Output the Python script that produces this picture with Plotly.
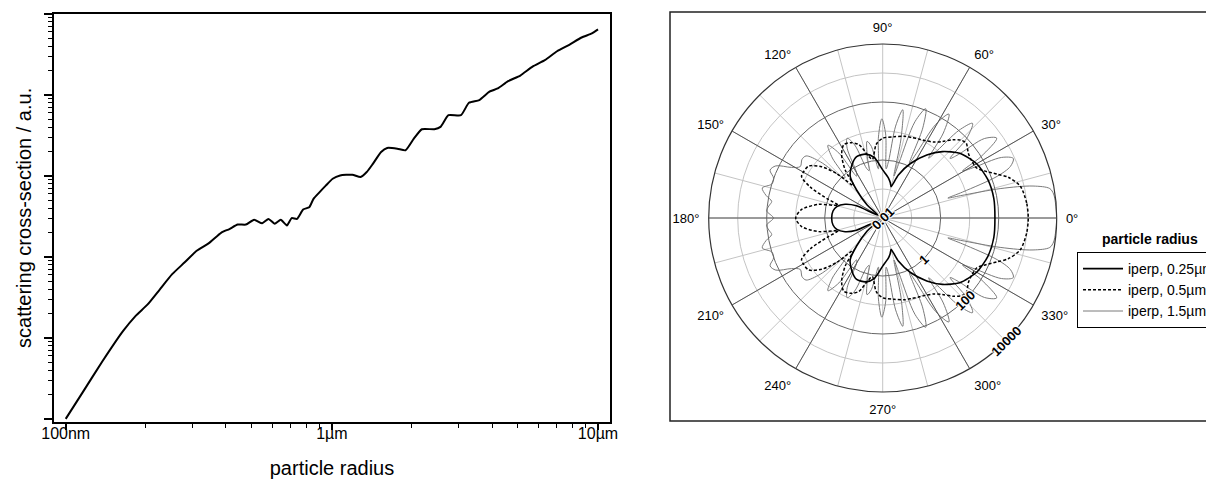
import math
import plotly.graph_objects as go

# ---------------- left chart data ----------------
radius_um = [0.100, 0.1153, 0.1374, 0.1641, 0.1828, 0.2032, 0.2259, 0.2512, 0.2793, 0.3105,
             0.3451, 0.3846, 0.4121, 0.4426, 0.4753, 0.5105, 0.5470, 0.5781, 0.6095, 0.6427,
             0.6776, 0.7063, 0.7396, 0.7798, 0.8222, 0.8531, 0.8995, 0.9484, 1.007, 1.074,
             1.194, 1.282, 1.352, 1.426, 1.531, 1.614, 1.762, 1.892, 2.032, 2.178,
             2.427, 2.559, 2.742, 3.055, 3.273, 3.581, 3.908, 4.198, 4.592, 5.105,
             5.675, 6.310, 7.015, 7.798, 8.670, 9.484, 10.0]
cross_section = [1.00, 2.08, 5.14, 12.1, 18.6, 25.9, 39.8, 61.2, 85.1, 119,
                 148, 200, 221, 251, 251, 288, 260, 295, 257, 288,
                 245, 302, 295, 385, 411, 521, 631, 759, 923, 1014,
                 1035, 968, 1117, 1413, 1977, 2218, 2173, 2075, 2884, 3776,
                 3776, 4036, 5623, 5623, 8017, 8650, 10965, 12023, 14791, 17378,
                 22387, 26915, 34674, 41687, 51286, 57544, 64565]
x_tick_vals = [0.1, 1, 10]
x_tick_text = ["100nm", "1µm", "10µm"]

# ---------------- polar chart data (0..180 deg, pattern is mirror-symmetric) ----------------
# values are log10 of the scattered intensity (a.u.)
theta_025 = [0, 10, 20, 30, 40, 48, 55, 63, 70, 73, 75, 78, 82, 90, 98, 105, 113, 120, 128,
             133, 140, 148, 155, 160, 166, 172, 180]
log_i_025 = [1.87, 1.89, 1.86, 1.74, 1.47, 1.08, 0.65, 0.11, -0.42, -0.75, -0.88, -0.75, -0.6,
             -0.34, 0.11, 0.28, 0.30, 0.12, -0.18, -0.68, -1.3, -1.8, -1.0, -0.62, -0.37, -0.27, -0.24]

theta_05 = [0, 6, 13, 18, 21, 25, 28, 33, 37, 42, 45, 48, 52, 56, 61, 65, 70, 75, 82, 90,
            95, 100, 103, 108, 113, 118, 123, 128, 132, 136, 140, 145, 150, 153, 157, 161,
            164, 168, 174, 180]
log_i_05 = [3.02, 2.99, 2.87, 2.55, 2.22, 1.85, 1.67, 1.65, 1.70, 1.87, 1.80, 1.63, 1.35, 1.16,
            1.05, 1.00, 0.95, 0.92, 0.83, 0.75, 0.55, 0.05, 0.2, 0.66, 0.82, 0.86, 0.6, 0.1,
            -0.5, 0.2, 0.75, 1.12, 1.16, 1.14, 0.7, 0.0, -0.4, 0.26, 0.81, 1.00]

theta_15 = [0, 5, 8, 10, 12, 14, 16, 17, 18, 20, 22, 24.5, 27, 29, 30.5, 32, 35, 38, 40, 41.5,
            43.5, 46.5, 49, 51, 52.5, 54.5, 57.5, 60.5, 62.5, 64, 66, 68.5, 71.5, 73.5, 75,
            77, 79.5, 82, 84, 86, 88, 90.5, 93, 95, 97, 99, 101.5, 104, 106, 108, 111, 114,
            117, 120, 122, 124, 127, 130, 133, 135, 138, 141, 144, 148, 151, 154, 157, 160,
            163, 166, 169, 171.5, 174, 176.5, 180]
log_i_15 = [4.0, 3.98, 3.95, 3.85, 3.3, 2.2, 0.8, 0.35, 0.9, 2.2, 2.75, 2.95, 2.6, 1.6, 1.2,
            2.0, 2.8, 2.45, 1.4, 1.1, 2.0, 2.5, 2.0, 1.0, 0.6, 1.6, 2.25, 1.7, 0.5, 0.1, 1.4,
            2.05, 1.5, 0.0, -0.5, 0.8, 1.8, 1.2, 0.0, -0.3, 0.9, 1.42, 0.8, -0.3, 0.0, 0.5,
            0.7, 0.2, -0.3, -0.2, 0.7, 1.01, 0.7, -0.2, -0.3, 0.7, 1.14, 0.7, -0.1, 0.0, 0.9,
            1.4, 1.44, 1.35, 1.6, 2.1, 2.22, 2.0, 2.0, 2.28, 2.1, 1.87, 1.95, 2.01, 1.77]

series_names = ["iperp, 0.25µm", "iperp, 0.5µm", "iperp, 1.5µm"]
radial_tick_vals = [0.01, 1, 100, 10000]
radial_tick_text = ["0.01", "1", "100", "10000"]
radial_minor_vals = [0.1, 10, 1000]
radial_range = [-2, 4]
radial_label_angle = -45
angle_label_vals = list(range(0, 360, 15))
angle_label_text = [f"{a}°" if a % 30 == 0 else "" for a in angle_label_vals]
angle_major_vals = [0, 30, 60, 120, 150, 180, 210, 240, 300, 330]

FONT = "Liberation Sans, Arial, sans-serif"
W, H = 1214, 481
OFF = 8  # page body margin of the html page


def fx(xp):
    return (xp - OFF) / W


def fy(yp):
    return 1 - (yp - OFF) / H


def full_circle(theta, logv):
    th = list(theta) + [360 - a for a in reversed(theta[:-1])]
    lv = list(logv) + list(reversed(logv[:-1]))
    return th, [10 ** v for v in lv]


fig = go.Figure()

# left: scattering cross-section vs radius
fig.add_trace(go.Scatter(x=radius_um, y=cross_section, mode="lines",
                         line=dict(color="black", width=2, shape="spline", smoothing=0.5),
                         showlegend=False, xaxis="x", yaxis="y"))

# right: polar diagrams
styles = [dict(color="black", width=1.6, shape="spline", smoothing=0.7),
          dict(color="black", width=1.5, dash="3px,2px", shape="spline", smoothing=0.8),
          dict(color="#7a7a7a", width=1, shape="spline", smoothing=0.9)]
subplots = ["polar2", "polar2", "polar"]
for name, th, lv, st, sp in zip(series_names, [theta_025, theta_05, theta_15],
                                [log_i_025, log_i_05, log_i_15], styles, subplots):
    t, r = full_circle(th, lv)
    fig.add_trace(go.Scatterpolar(theta=t, r=r, mode="lines", name=name, line=st,
                                  subplot=sp))

x_minor = [m * d for d in (0.1, 1) for m in range(2, 10)]
y_minor = [m * d for d in (1, 10, 100, 1000, 10000) for m in range(2, 10)]

cx, cy, rad = 882.7, 218.0, 174.0
pdom_x = [fx(cx - rad), fx(cx + rad)]
pdom_y = [fy(cy + rad), fy(cy - rad)]

# radial tick labels written along the -45 deg direction, centred on it
halo = "1px 1px 1px #fff, -1px -1px 1px #fff, 1px -1px 1px #fff, -1px 1px 1px #fff"
radial_labels = []
for v, txt in zip(radial_tick_vals, radial_tick_text):
    rp = (math.log10(v) - radial_range[0]) / (radial_range[1] - radial_range[0]) * rad
    a = math.radians(radial_label_angle)
    radial_labels.append(dict(text=f"<b>{txt}</b>", x=fx(cx + rp * math.cos(a)),
                              y=fy(cy - rp * math.sin(a)), xref="paper", yref="paper",
                              showarrow=False, textangle=-45,
                              font=dict(size=13, color="black", shadow=halo),
                              xanchor="center", yanchor="middle"))

fig.update_layout(
    width=W, height=H,
    margin=dict(l=0, r=0, t=0, b=0, pad=0),
    paper_bgcolor="white", plot_bgcolor="white",
    font=dict(family=FONT, color="black"),
    xaxis=dict(type="log", range=[-1.044, 1.045], domain=[fx(54), fx(610)],
               tickvals=x_tick_vals, ticktext=x_tick_text, tickfont=dict(size=16),
               ticks="outside", ticklen=6, tickwidth=1.5, tickcolor="black",
               ticklabelstandoff=-10,
               minor=dict(tickvals=x_minor, ticks="outside", ticklen=4, tickwidth=1,
                          tickcolor="black", showgrid=False),
               showline=True, linecolor="black", linewidth=2, mirror=True,
               showgrid=False, zeroline=False, automargin=False,
               title=dict(text="particle radius", font=dict(size=20), standoff=20),
               anchor="y"),
    yaxis=dict(type="log", range=[-0.035, 5.0], domain=[fy(421.7), fy(14)],
               tickvals=[1, 10, 100, 1000, 10000, 100000], showticklabels=False,
               ticks="outside", ticklen=8, tickwidth=1.5, tickcolor="black",
               minor=dict(tickvals=y_minor, ticks="outside", ticklen=4, tickwidth=1,
                          tickcolor="black", showgrid=False),
               showline=True, linecolor="black", linewidth=2, mirror=True,
               showgrid=False, zeroline=False, automargin=False,
               title=dict(text="scattering cross-section / a.u.", font=dict(size=20), standoff=7),
               anchor="x"),
    polar=dict(
        domain=dict(x=pdom_x, y=pdom_y), bgcolor="white",
        angularaxis=dict(tickmode="array", tickvals=angle_label_vals, ticktext=angle_label_text,
                         tickfont=dict(size=13), ticks="outside", ticklen=6,
                         tickcolor="rgba(0,0,0,0)",
                         showgrid=True, gridcolor="#c4c4c4", gridwidth=1,
                         showline=True, linecolor="#333", linewidth=1.2,
                         direction="counterclockwise", rotation=0),
        radialaxis=dict(type="log", range=radial_range, tickvals=radial_minor_vals,
                        showticklabels=False, ticks="", showline=False,
                        showgrid=True, gridcolor="#c4c4c4", gridwidth=1),
    ),
    polar2=dict(
        domain=dict(x=pdom_x, y=pdom_y), bgcolor="rgba(0,0,0,0)",
        angularaxis=dict(tickmode="array", tickvals=angle_major_vals, showticklabels=False,
                         ticks="", showgrid=True, gridcolor="#555555", gridwidth=1,
                         showline=False, direction="counterclockwise", rotation=0),
        radialaxis=dict(type="log", range=radial_range, tickvals=radial_tick_vals,
                        showticklabels=False, angle=radial_label_angle,
                        ticks="", showline=False,
                        showgrid=True, gridcolor="#666666", gridwidth=1),
    ),
    legend=dict(x=fx(1077), y=fy(252), xanchor="left", yanchor="top",
                bordercolor="black", borderwidth=1, bgcolor="white",
                font=dict(size=14), tracegroupgap=0, itemwidth=40),
    annotations=[dict(text="<b>particle radius</b>", x=fx(1150), y=fy(239),
                      xref="paper", yref="paper", showarrow=False,
                      font=dict(size=14), xanchor="center", yanchor="middle")] + radial_labels,
    shapes=[dict(type="rect", xref="paper", yref="paper",
                 x0=fx(670), x1=fx(1240), y0=fy(421), y1=fy(12),
                 line=dict(color="#222", width=1.5), fillcolor="rgba(0,0,0,0)",
                 layer="below")],
)

fig.write_html("out.html")
